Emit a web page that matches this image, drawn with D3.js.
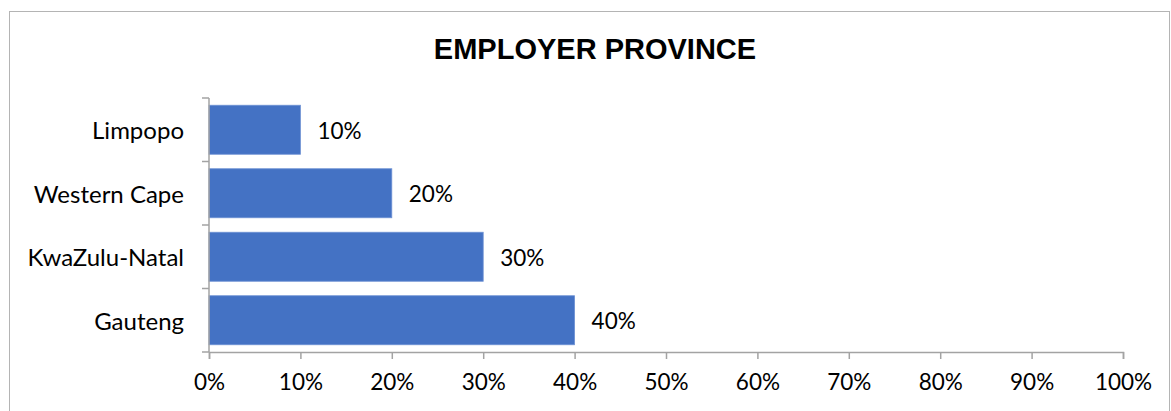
<!DOCTYPE html>
<html>
<head>
<meta charset="utf-8">
<script src="https://cdn.jsdelivr.net/npm/d3@7/dist/d3.min.js"></script>
<style>
  html, body { margin: 0; padding: 0; background: #fff; }
  svg { display: block; }
</style>
</head>
<body>
<svg id="chart" width="1171" height="411"></svg>
<script>
// Share of employers by province
const provinces = ["Limpopo", "Western Cape", "KwaZulu-Natal", "Gauteng"];
const shares = [0.10, 0.20, 0.30, 0.40];
const xTickValues = [0, 0.1, 0.2, 0.3, 0.4, 0.5, 0.6, 0.7, 0.8, 0.9, 1.0];
const chartTitle = "EMPLOYER PROVINCE";

const svg = d3.select("#chart");
const W = 1171, H = 411;
const margin = { left: 209, right: 48, top: 98, bottom: 59 };
const labelFont = "Lato, 'Open Sans', sans-serif";
const axisColor = "#a3a3a3";

// outer chart frame
svg.append("rect")
  .attr("x", 9.5).attr("y", 11.5)
  .attr("width", 1160).attr("height", 420)
  .attr("fill", "#fff")
  .attr("stroke", "#b4b4b4")
  .attr("stroke-width", 1);

const x = d3.scaleLinear().domain([0, 1]).range([margin.left, W - margin.right]);
const y = d3.scaleBand().domain(provinces)
  .range([margin.top, H - margin.bottom])
  .paddingInner(0.228).paddingOuter(0.114);

// title
svg.append("text")
  .attr("x", 595).attr("y", 58.5)
  .attr("text-anchor", "middle")
  .attr("font-family", "'Liberation Sans', Arial, sans-serif")
  .attr("font-weight", "bold")
  .attr("font-size", 29)
  .attr("fill", "#000")
  .text(chartTitle);

// bars
svg.append("g").selectAll("rect")
  .data(provinces)
  .join("rect")
  .attr("x", x(0))
  .attr("y", d => y(d))
  .attr("width", (d, i) => x(shares[i]) - x(0))
  .attr("height", y.bandwidth())
  .attr("fill", "#4472c4")
  .attr("stroke", "#6e92d4")
  .attr("stroke-width", 0.8);

// value labels
svg.append("g").selectAll("text")
  .data(provinces)
  .join("text")
  .attr("x", (d, i) => x(shares[i]) + 17)
  .attr("y", d => y(d) + y.bandwidth() / 2)
  .attr("dy", "0.4em")
  .attr("font-family", labelFont)
  .attr("font-size", 22.5)
  .attr("fill", "#000")
  .text((d, i) => d3.format(".0%")(shares[i]));

// x axis
const xAxis = svg.append("g")
  .attr("transform", `translate(0,${H - margin.bottom})`)
  .call(d3.axisBottom(x).tickValues(xTickValues).tickFormat(d3.format(".0%")).tickSize(7).tickPadding(15));

// y axis with ticks between categories
const step = y.step();
const yBounds = d3.range(provinces.length + 1).map(i => margin.top + i * step);
const yAxis = svg.append("g").attr("transform", `translate(${margin.left},0)`);
yAxis.append("line")
  .attr("x1", 0).attr("x2", 0)
  .attr("y1", margin.top).attr("y2", H - margin.bottom)
  .attr("stroke", axisColor).attr("stroke-width", 1.5);
yAxis.selectAll("line.tick")
  .data(yBounds)
  .join("line")
  .attr("class", "tick")
  .attr("x1", -7).attr("x2", 0)
  .attr("y1", d => d).attr("y2", d => d)
  .attr("stroke", axisColor).attr("stroke-width", 1.5);
yAxis.selectAll("text")
  .data(provinces)
  .join("text")
  .attr("x", -25)
  .attr("y", d => y(d) + y.bandwidth() / 2)
  .attr("dy", "0.4em")
  .attr("text-anchor", "end")
  .attr("font-family", labelFont)
  .attr("font-size", 24)
  .attr("fill", "#000")
  .text(d => d);

xAxis.select(".domain").attr("stroke", axisColor).attr("stroke-width", 1.5);
xAxis.selectAll(".tick line").attr("stroke", axisColor).attr("stroke-width", 1.5);
xAxis.selectAll(".tick text")
  .attr("font-family", labelFont)
  .attr("font-size", 22.5)
  .attr("fill", "#000");
</script>
</body>
</html>
